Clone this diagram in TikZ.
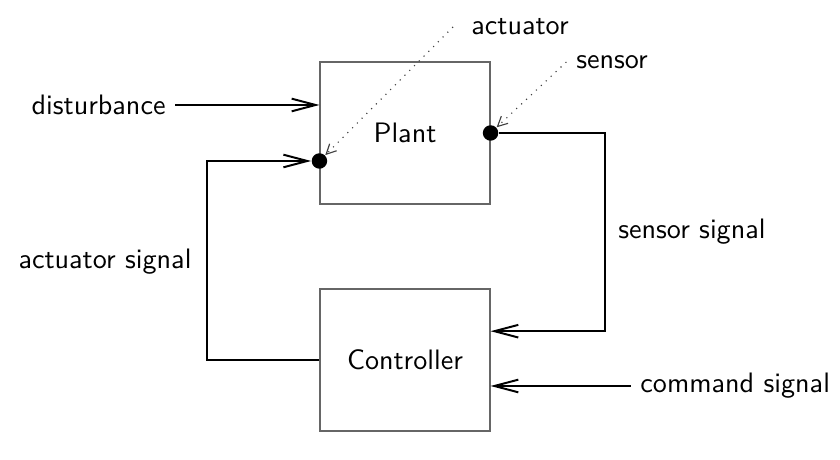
\documentclass[tikz,border=0pt]{standalone}
\usepackage{tikz}
\usetikzlibrary{arrows.meta,positioning}

\begin{document}
\begin{tikzpicture}[>={Straight Barb[length=8.5pt,width=4.5pt]},
	font=\sffamily,
	block/.style={draw=black!60,line width=0.4pt,
		minimum width=2.125cm,minimum height=1.775cm},
	signal/.style={->,line width=0.7pt},
	port/.style={circle,fill=black,inner sep=0pt,minimum size=5.5pt},
	hint/.style={->,>={Straight Barb[length=3.5pt,width=3.5pt]},
		dotted,line width=0.4pt,black!75}]
	
	\useasboundingbox (0,0) rectangle (10.5,5.75);
	
	\node[block] (plant) at (5.0625,4.0875) {Plant};
	\node[block] (ctrl) at (5.0625,1.25) {Controller};
	
	\node[port] (act) at ([yshift=-0.35cm]plant.west) {};
	\node[port] (sen) at (plant.east) {};
	\coordinate (dist in) at ([yshift=0.35cm]plant.west);
	\coordinate (sen in) at ([yshift=0.36cm]ctrl.east);
	\coordinate (cmd in) at ([yshift=-0.325cm]ctrl.east);
	
	\node (dist) [left=1.8cm of dist in] {disturbance};
	\node (cmd) [right=1.75cm of cmd in] {command signal};
	\node (act sig) at (1.3125,2.475) {actuator signal};
	\node (sen sig) at (8.65,2.85) {sensor signal};
	\node (act lbl) at (6.5,5.4125) {actuator};
	\node (sen lbl) at (7.65,4.975) {sensor};
	
	\draw[signal] (dist) -- (dist in);
	\draw[signal] (cmd) -- (cmd in);
	\draw[signal] (ctrl.west) -- ++(-1.41,0) |- (act);
	\draw[signal] (sen) -- ++(1.425,0) |- (sen in);
	
	\draw[hint] ([xshift=-3pt]act lbl.west) -- (act);
	\draw[hint] (sen lbl.west) -- (sen);
\end{tikzpicture}
\end{document}
